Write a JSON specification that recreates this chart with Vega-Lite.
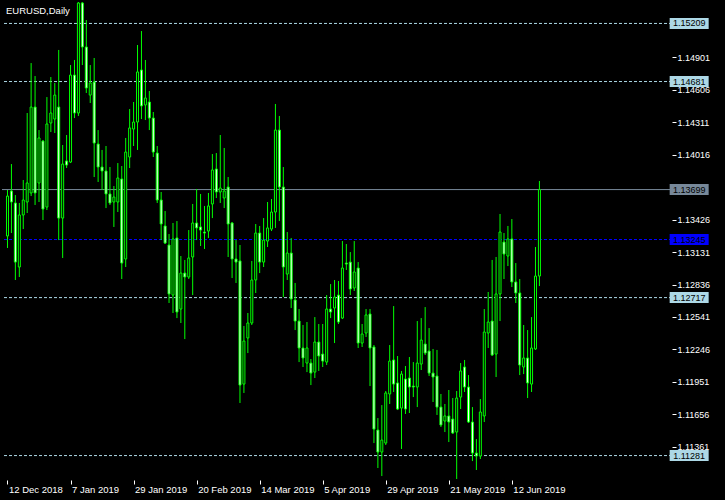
{
  "$schema": "https://vega.github.io/schema/vega-lite/v6.json",
  "width": 670,
  "height": 478,
  "autosize": {"type": "none"},
  "padding": {"left": 2, "top": 2, "right": 53, "bottom": 20},
  "background": "black",
  "config": {
    "view": {"stroke": null},
    "font": "Liberation Sans"
  },
  "title": {"text": "EURUSD,Daily", "anchor": "start", "frame": "group", "offset": -11, "dx": 4, "dy": 10, "baseline": "alphabetic", "color": "white", "fontSize": 9.5, "fontWeight": "normal", "font": "Liberation Sans"},
  "datasets": {
    "levels": [
      {"p": 1.15209, "t": "level"},
      {"p": 1.14681, "t": "level"},
      {"p": 1.12717, "t": "level"},
      {"p": 1.11281, "t": "level"},
      {"p": 1.13699, "t": "bid"},
      {"p": 1.13245, "t": "pivot"}
    ],
    "ohlc": [
      {"i":0,"d":"2018-12-12","o":1.13277,"h":1.13695,"l":1.13168,"c":1.13640},
      {"i":1,"d":"2018-12-13","o":1.13686,"h":1.13931,"l":1.13304,"c":1.13586},
      {"i":2,"d":"2018-12-14","o":1.13577,"h":1.13649,"l":1.12877,"c":1.13040},
      {"i":3,"d":"2018-12-17","o":1.12995,"h":1.13577,"l":1.12904,"c":1.13468},
      {"i":4,"d":"2018-12-18","o":1.13468,"h":1.13786,"l":1.13340,"c":1.13604},
      {"i":5,"d":"2018-12-19","o":1.13586,"h":1.14395,"l":1.13486,"c":1.13759},
      {"i":6,"d":"2018-12-20","o":1.13668,"h":1.14849,"l":1.13640,"c":1.14449},
      {"i":7,"d":"2018-12-21","o":1.14449,"h":1.14731,"l":1.13559,"c":1.13668},
      {"i":8,"d":"2018-12-24","o":1.13759,"h":1.14240,"l":1.13586,"c":1.14168},
      {"i":9,"d":"2018-12-26","o":1.14140,"h":1.14149,"l":1.13422,"c":1.13522},
      {"i":10,"d":"2018-12-27","o":1.13540,"h":1.14540,"l":1.13513,"c":1.14295},
      {"i":11,"d":"2018-12-28","o":1.14304,"h":1.14722,"l":1.14222,"c":1.14395},
      {"i":12,"d":"2018-12-31","o":1.14340,"h":1.14668,"l":1.14213,"c":1.14558},
      {"i":13,"d":"2019-01-02","o":1.14449,"h":1.14968,"l":1.13240,"c":1.13440},
      {"i":14,"d":"2019-01-03","o":1.13440,"h":1.14104,"l":1.13077,"c":1.13931},
      {"i":15,"d":"2019-01-04","o":1.13959,"h":1.14195,"l":1.13895,"c":1.13922},
      {"i":16,"d":"2019-01-07","o":1.13949,"h":1.14831,"l":1.13940,"c":1.14740},
      {"i":17,"d":"2019-01-08","o":1.14740,"h":1.14877,"l":1.14349,"c":1.14395},
      {"i":18,"d":"2019-01-09","o":1.14395,"h":1.15500,"l":1.14368,"c":1.15395},
      {"i":19,"d":"2019-01-10","o":1.15395,"h":1.15700,"l":1.14831,"c":1.14995},
      {"i":20,"d":"2019-01-11","o":1.14995,"h":1.15240,"l":1.14577,"c":1.14622},
      {"i":21,"d":"2019-01-14","o":1.14558,"h":1.14831,"l":1.14486,"c":1.14668},
      {"i":22,"d":"2019-01-15","o":1.14677,"h":1.14895,"l":1.13813,"c":1.14122},
      {"i":23,"d":"2019-01-16","o":1.14113,"h":1.14240,"l":1.13768,"c":1.13904},
      {"i":24,"d":"2019-01-17","o":1.13904,"h":1.14059,"l":1.13695,"c":1.13868},
      {"i":25,"d":"2019-01-18","o":1.13868,"h":1.14095,"l":1.13531,"c":1.13659},
      {"i":26,"d":"2019-01-21","o":1.13659,"h":1.13904,"l":1.13559,"c":1.13577},
      {"i":27,"d":"2019-01-22","o":1.13586,"h":1.13731,"l":1.13359,"c":1.13631},
      {"i":28,"d":"2019-01-23","o":1.13586,"h":1.13940,"l":1.13495,"c":1.13804},
      {"i":29,"d":"2019-01-24","o":1.13795,"h":1.13913,"l":1.12886,"c":1.13031},
      {"i":30,"d":"2019-01-25","o":1.13068,"h":1.14168,"l":1.12995,"c":1.14040},
      {"i":31,"d":"2019-01-28","o":1.13995,"h":1.14431,"l":1.13895,"c":1.14259},
      {"i":32,"d":"2019-01-29","o":1.14249,"h":1.14495,"l":1.14095,"c":1.14313},
      {"i":33,"d":"2019-01-30","o":1.14313,"h":1.15013,"l":1.14059,"c":1.14768},
      {"i":34,"d":"2019-01-31","o":1.14786,"h":1.15140,"l":1.14340,"c":1.14459},
      {"i":35,"d":"2019-02-01","o":1.14468,"h":1.14877,"l":1.14331,"c":1.14531},
      {"i":36,"d":"2019-02-04","o":1.14495,"h":1.14595,"l":1.14240,"c":1.14349},
      {"i":37,"d":"2019-02-05","o":1.14349,"h":1.14404,"l":1.13995,"c":1.14040},
      {"i":38,"d":"2019-02-06","o":1.14031,"h":1.14095,"l":1.13577,"c":1.13604},
      {"i":39,"d":"2019-02-07","o":1.13604,"h":1.13677,"l":1.13240,"c":1.13386},
      {"i":40,"d":"2019-02-08","o":1.13368,"h":1.13504,"l":1.13204,"c":1.13213},
      {"i":41,"d":"2019-02-11","o":1.13195,"h":1.13295,"l":1.12668,"c":1.12750},
      {"i":42,"d":"2019-02-12","o":1.12740,"h":1.13395,"l":1.12577,"c":1.13250},
      {"i":43,"d":"2019-02-13","o":1.13259,"h":1.13413,"l":1.12531,"c":1.12586},
      {"i":44,"d":"2019-02-14","o":1.12613,"h":1.13095,"l":1.12486,"c":1.12940},
      {"i":45,"d":"2019-02-15","o":1.12940,"h":1.13059,"l":1.12340,"c":1.12904},
      {"i":46,"d":"2019-02-18","o":1.12904,"h":1.13331,"l":1.12886,"c":1.13077},
      {"i":47,"d":"2019-02-19","o":1.13086,"h":1.13568,"l":1.12740,"c":1.13395},
      {"i":48,"d":"2019-02-20","o":1.13395,"h":1.13704,"l":1.13240,"c":1.13350},
      {"i":49,"d":"2019-02-21","o":1.13359,"h":1.13659,"l":1.13186,"c":1.13331},
      {"i":50,"d":"2019-02-22","o":1.13313,"h":1.13550,"l":1.13159,"c":1.13304},
      {"i":51,"d":"2019-02-25","o":1.13322,"h":1.13668,"l":1.13259,"c":1.13550},
      {"i":52,"d":"2019-02-26","o":1.13568,"h":1.14022,"l":1.13440,"c":1.13877},
      {"i":53,"d":"2019-02-27","o":1.13886,"h":1.14031,"l":1.13622,"c":1.13677},
      {"i":54,"d":"2019-02-28","o":1.13677,"h":1.14195,"l":1.13577,"c":1.13713},
      {"i":55,"d":"2019-03-01","o":1.13622,"h":1.14077,"l":1.13531,"c":1.13686},
      {"i":56,"d":"2019-03-04","o":1.13722,"h":1.13813,"l":1.13086,"c":1.13386},
      {"i":57,"d":"2019-03-05","o":1.13395,"h":1.13404,"l":1.12895,"c":1.13068},
      {"i":58,"d":"2019-03-06","o":1.13068,"h":1.13240,"l":1.12850,"c":1.13040},
      {"i":59,"d":"2019-03-07","o":1.13050,"h":1.13195,"l":1.11759,"c":1.11922},
      {"i":60,"d":"2019-03-08","o":1.11931,"h":1.12459,"l":1.11850,"c":1.12322},
      {"i":61,"d":"2019-03-11","o":1.12350,"h":1.12577,"l":1.12213,"c":1.12486},
      {"i":62,"d":"2019-03-12","o":1.12486,"h":1.13050,"l":1.12468,"c":1.12877},
      {"i":63,"d":"2019-03-13","o":1.12877,"h":1.13386,"l":1.12759,"c":1.13304},
      {"i":64,"d":"2019-03-14","o":1.13304,"h":1.13368,"l":1.12940,"c":1.13040},
      {"i":65,"d":"2019-03-15","o":1.13040,"h":1.13440,"l":1.12995,"c":1.13240},
      {"i":66,"d":"2019-03-18","o":1.13231,"h":1.13586,"l":1.13177,"c":1.13350},
      {"i":67,"d":"2019-03-19","o":1.13340,"h":1.13613,"l":1.13322,"c":1.13495},
      {"i":68,"d":"2019-03-20","o":1.13495,"h":1.14477,"l":1.13350,"c":1.14240},
      {"i":69,"d":"2019-03-21","o":1.14240,"h":1.14368,"l":1.13413,"c":1.13722},
      {"i":70,"d":"2019-03-22","o":1.13722,"h":1.13904,"l":1.12722,"c":1.12995},
      {"i":71,"d":"2019-03-25","o":1.12931,"h":1.13313,"l":1.12877,"c":1.13122},
      {"i":72,"d":"2019-03-26","o":1.13122,"h":1.13259,"l":1.12622,"c":1.12704},
      {"i":73,"d":"2019-03-27","o":1.12695,"h":1.12850,"l":1.12422,"c":1.12504},
      {"i":74,"d":"2019-03-28","o":1.12504,"h":1.12613,"l":1.12131,"c":1.12259},
      {"i":75,"d":"2019-03-29","o":1.12259,"h":1.12468,"l":1.12086,"c":1.12168},
      {"i":76,"d":"2019-04-01","o":1.12122,"h":1.12495,"l":1.12040,"c":1.12259},
      {"i":77,"d":"2019-04-02","o":1.12122,"h":1.12159,"l":1.11922,"c":1.12031},
      {"i":78,"d":"2019-04-03","o":1.12040,"h":1.12540,"l":1.11986,"c":1.12313},
      {"i":79,"d":"2019-04-04","o":1.12313,"h":1.12477,"l":1.12050,"c":1.12186},
      {"i":80,"d":"2019-04-05","o":1.12204,"h":1.12477,"l":1.12086,"c":1.12140},
      {"i":81,"d":"2019-04-08","o":1.12131,"h":1.12740,"l":1.12104,"c":1.12613},
      {"i":82,"d":"2019-04-09","o":1.12613,"h":1.12840,"l":1.12531,"c":1.12586},
      {"i":83,"d":"2019-04-10","o":1.12622,"h":1.12877,"l":1.12304,"c":1.12722},
      {"i":84,"d":"2019-04-11","o":1.12740,"h":1.12868,"l":1.12477,"c":1.12495},
      {"i":85,"d":"2019-04-12","o":1.12531,"h":1.13231,"l":1.12522,"c":1.12986},
      {"i":86,"d":"2019-04-15","o":1.13031,"h":1.13204,"l":1.12968,"c":1.13022},
      {"i":87,"d":"2019-04-16","o":1.13040,"h":1.13131,"l":1.12740,"c":1.12795},
      {"i":88,"d":"2019-04-17","o":1.12804,"h":1.13231,"l":1.12777,"c":1.12950},
      {"i":89,"d":"2019-04-18","o":1.12986,"h":1.13040,"l":1.12259,"c":1.12304},
      {"i":90,"d":"2019-04-19","o":1.12304,"h":1.12477,"l":1.12268,"c":1.12386},
      {"i":91,"d":"2019-04-22","o":1.12395,"h":1.12613,"l":1.12359,"c":1.12559},
      {"i":92,"d":"2019-04-23","o":1.12568,"h":1.12613,"l":1.11913,"c":1.12259},
      {"i":93,"d":"2019-04-24","o":1.12268,"h":1.12286,"l":1.11395,"c":1.11522},
      {"i":94,"d":"2019-04-25","o":1.11513,"h":1.11622,"l":1.11168,"c":1.11313},
      {"i":95,"d":"2019-04-26","o":1.11313,"h":1.11740,"l":1.11095,"c":1.11422},
      {"i":96,"d":"2019-04-29","o":1.11395,"h":1.11868,"l":1.11377,"c":1.11850},
      {"i":97,"d":"2019-04-30","o":1.11841,"h":1.12286,"l":1.11750,"c":1.12140},
      {"i":98,"d":"2019-05-01","o":1.12150,"h":1.12640,"l":1.11859,"c":1.11931},
      {"i":99,"d":"2019-05-02","o":1.11941,"h":1.12186,"l":1.11695,"c":1.11704},
      {"i":100,"d":"2019-05-03","o":1.11713,"h":1.12050,"l":1.11341,"c":1.12022},
      {"i":101,"d":"2019-05-06","o":1.11977,"h":1.12095,"l":1.11659,"c":1.11704},
      {"i":102,"d":"2019-05-07","o":1.11986,"h":1.12177,"l":1.11668,"c":1.11904},
      {"i":103,"d":"2019-05-08","o":1.11913,"h":1.12131,"l":1.11813,"c":1.11904},
      {"i":104,"d":"2019-05-09","o":1.11904,"h":1.12504,"l":1.11722,"c":1.12122},
      {"i":105,"d":"2019-05-10","o":1.12113,"h":1.12531,"l":1.12059,"c":1.12331},
      {"i":106,"d":"2019-05-13","o":1.12295,"h":1.12631,"l":1.12195,"c":1.12213},
      {"i":107,"d":"2019-05-14","o":1.12231,"h":1.12440,"l":1.12004,"c":1.12031},
      {"i":108,"d":"2019-05-15","o":1.12031,"h":1.12250,"l":1.11768,"c":1.11995},
      {"i":109,"d":"2019-05-16","o":1.12004,"h":1.12241,"l":1.11650,"c":1.11722},
      {"i":110,"d":"2019-05-17","o":1.11722,"h":1.11841,"l":1.11541,"c":1.11559},
      {"i":111,"d":"2019-05-20","o":1.11595,"h":1.11750,"l":1.11495,"c":1.11641},
      {"i":112,"d":"2019-05-21","o":1.11641,"h":1.11877,"l":1.11404,"c":1.11586},
      {"i":113,"d":"2019-05-22","o":1.11613,"h":1.11804,"l":1.11477,"c":1.11486},
      {"i":114,"d":"2019-05-23","o":1.11495,"h":1.11868,"l":1.11068,"c":1.11804},
      {"i":115,"d":"2019-05-24","o":1.11813,"h":1.12122,"l":1.11704,"c":1.12050},
      {"i":116,"d":"2019-05-27","o":1.12086,"h":1.12150,"l":1.11859,"c":1.11904},
      {"i":117,"d":"2019-05-28","o":1.11904,"h":1.12013,"l":1.11577,"c":1.11586},
      {"i":118,"d":"2019-05-29","o":1.11586,"h":1.11722,"l":1.11231,"c":1.11304},
      {"i":119,"d":"2019-05-30","o":1.11304,"h":1.11431,"l":1.11150,"c":1.11277},
      {"i":120,"d":"2019-05-31","o":1.11277,"h":1.11795,"l":1.11250,"c":1.11677},
      {"i":121,"d":"2019-06-03","o":1.11641,"h":1.12613,"l":1.11586,"c":1.12404},
      {"i":122,"d":"2019-06-04","o":1.12395,"h":1.12768,"l":1.12259,"c":1.12495},
      {"i":123,"d":"2019-06-05","o":1.12504,"h":1.13059,"l":1.12186,"c":1.12195},
      {"i":124,"d":"2019-06-06","o":1.12204,"h":1.13086,"l":1.11995,"c":1.12750},
      {"i":125,"d":"2019-06-07","o":1.12750,"h":1.13477,"l":1.12504,"c":1.13313},
      {"i":126,"d":"2019-06-10","o":1.13222,"h":1.13304,"l":1.12886,"c":1.13113},
      {"i":127,"d":"2019-06-11","o":1.13095,"h":1.13368,"l":1.13004,"c":1.13250},
      {"i":128,"d":"2019-06-12","o":1.13250,"h":1.13431,"l":1.12813,"c":1.12859},
      {"i":129,"d":"2019-06-13","o":1.12859,"h":1.13031,"l":1.12668,"c":1.12759},
      {"i":130,"d":"2019-06-14","o":1.12759,"h":1.12886,"l":1.12013,"c":1.12104},
      {"i":131,"d":"2019-06-17","o":1.12086,"h":1.12468,"l":1.12022,"c":1.12168},
      {"i":132,"d":"2019-06-18","o":1.12168,"h":1.12422,"l":1.11804,"c":1.11941},
      {"i":133,"d":"2019-06-19","o":1.11931,"h":1.12540,"l":1.11859,"c":1.12259},
      {"i":134,"d":"2019-06-20","o":1.12250,"h":1.13177,"l":1.12241,"c":1.12913},
      {"i":135,"d":"2019-06-21","o":1.12913,"h":1.13777,"l":1.12822,"c":1.13699}
    ]
  },
  "layer": [
    {
      "data": {"name": "levels"},
      "mark": {"type": "rule", "strokeWidth": 1, "clip": true},
      "encoding": {
        "y": {"field": "p", "type": "quantitative", "scale": {"domain": [1.11059, 1.15404], "nice": false, "zero": false}},
        "color": {"field": "t", "type": "nominal", "scale": {"domain": ["level", "bid", "pivot"], "range": ["#ADD8E6", "#778899", "#0000FF"]}, "legend": null},
        "strokeDash": {"field": "t", "type": "nominal", "scale": {"domain": ["level", "bid", "pivot"], "range": [[3, 2], [1, 0], [3, 2]]}, "legend": null}
      }
    },
    {
      "data": {"name": "ohlc"},
      "mark": {"type": "rule", "color": "#00FF00", "strokeWidth": 1, "clip": true},
      "encoding": {
        "x": {"field": "i", "type": "quantitative", "scale": {"domain": [-0.125, 167.375], "nice": false, "zero": false},
          "axis": {"values": [0, 16, 32, 48, 64, 80, 96, 112, 128], "labelExpr": "['12 Dec 2018','7 Jan 2019','29 Jan 2019','20 Feb 2019','14 Mar 2019','5 Apr 2019','29 Apr 2019','21 May 2019','12 Jun 2019'][round(datum.value/16)]", "title": null, "grid": false, "domain": false, "tickColor": "white", "tickSize": 4, "labelColor": "white", "labelFont": "Liberation Sans", "labelFontSize": 9.5, "labelAlign": "left", "labelPadding": 0, "labelOffset": 1, "labelFlush": false, "labelOverlap": false, "labelBound": false}},
        "y": {"field": "l", "type": "quantitative", "scale": {"domain": [1.11059, 1.15404], "nice": false, "zero": false},
          "axis": {"orient": "right", "values": [1.14901, 1.14606, 1.14311, 1.14016, 1.13426, 1.13131, 1.12836, 1.12541, 1.12246, 1.11951, 1.11656, 1.11361], "format": ".5f", "title": null, "grid": false, "domain": false, "tickColor": "white", "tickSize": 4, "labelColor": "white", "labelFont": "Liberation Sans", "labelFontSize": 9, "labelPadding": 1, "labelOverlap": false, "labelBound": false, "labelFlush": false}},
        "y2": {"field": "h"}
      }
    },
    {
      "data": {"name": "ohlc"},
      "mark": {"type": "bar", "width": 2, "stroke": "#00FF00", "strokeWidth": 1, "clip": true},
      "encoding": {
        "x": {"field": "i", "type": "quantitative", "scale": {"domain": [-0.125, 167.375], "nice": false, "zero": false}},
        "y": {"field": "o", "type": "quantitative", "scale": {"domain": [1.11059, 1.15404], "nice": false, "zero": false}},
        "y2": {"field": "c"},
        "fill": {"condition": {"test": "datum.c < datum.o", "value": "white"}, "value": "black"}
      }
    },
    {
      "mark": {"type": "rule", "color": "white", "strokeWidth": 1, "clip": false},
      "encoding": {
        "x": {"datum": 0, "type": "quantitative", "scale": {"domain": [-0.125, 167.375], "nice": false, "zero": false}}
      }
    },
    {
      "mark": {"type": "rule", "color": "white", "strokeWidth": 1, "clip": false},
      "encoding": {
        "y": {"datum": 1.15399, "type": "quantitative", "scale": {"domain": [1.11059, 1.15404], "nice": false, "zero": false}}
      }
    },
    {
      "mark": {"type": "rule", "color": "white", "strokeWidth": 1, "clip": false},
      "encoding": {
        "y": {"datum": 1.11063, "type": "quantitative", "scale": {"domain": [1.11059, 1.15404], "nice": false, "zero": false}}
      }
    },
    {
      "mark": {"type": "rule", "color": "white", "strokeWidth": 1, "clip": false},
      "encoding": {
        "x": {"datum": 167.5, "type": "quantitative", "scale": {"domain": [-0.125, 167.375], "nice": false, "zero": false}},
        "y": {"datum": 1.15399, "type": "quantitative", "scale": {"domain": [1.11059, 1.15404], "nice": false, "zero": false}},
        "y2": {"datum": 1.11063}
      }
    },
    {
      "mark": {"type": "rule", "color": "white", "strokeWidth": 3, "clip": false},
      "encoding": {
        "x": {"datum": 167.5, "type": "quantitative", "scale": {"domain": [-0.125, 167.375], "nice": false, "zero": false}},
        "y": {"datum": 1.15086, "type": "quantitative", "scale": {"domain": [1.11059, 1.15404], "nice": false, "zero": false}},
        "y2": {"datum": 1.1115}
      }
    },
    {
      "data": {"name": "levels"},
      "mark": {"type": "rect", "width": 39, "height": 11, "clip": false},
      "encoding": {
        "x": {"datum": 173.0, "type": "quantitative", "scale": {"domain": [-0.125, 167.375], "nice": false, "zero": false}},
        "y": {"field": "p", "type": "quantitative", "scale": {"domain": [1.11059, 1.15404], "nice": false, "zero": false}},
        "fill": {"field": "t", "type": "nominal", "scale": {"domain": ["level", "bid", "pivot"], "range": ["#ADD8E6", "#778899", "#0000FF"]}, "legend": null}
      }
    },
    {
      "data": {"name": "levels"},
      "mark": {"type": "text", "color": "black", "font": "Liberation Sans", "fontSize": 9, "align": "center", "baseline": "middle", "clip": false},
      "encoding": {
        "x": {"datum": 173.0, "type": "quantitative", "scale": {"domain": [-0.125, 167.375], "nice": false, "zero": false}},
        "y": {"field": "p", "type": "quantitative", "scale": {"domain": [1.11059, 1.15404], "nice": false, "zero": false}},
        "text": {"field": "p", "type": "quantitative", "format": ".5f"}
      }
    }
  ]
}
